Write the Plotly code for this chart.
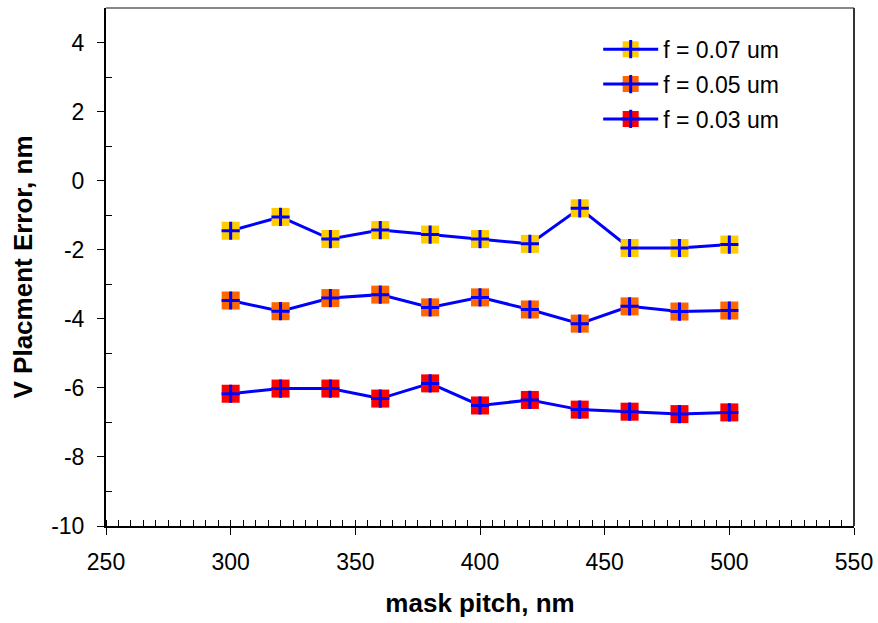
import plotly.graph_objects as go

pitch = [300, 320, 340, 360, 380, 400, 420, 440, 460, 480, 500]
f007 = [-1.45, -1.05, -1.69, -1.43, -1.56, -1.69, -1.83, -0.80, -1.95, -1.95, -1.85]
f005 = [-3.47, -3.78, -3.40, -3.30, -3.67, -3.38, -3.73, -4.14, -3.64, -3.79, -3.76]
f003 = [-6.17, -6.02, -6.02, -6.31, -5.87, -6.51, -6.35, -6.63, -6.69, -6.76, -6.71]
names = ["f = 0.07 um", "f = 0.05 um", "f = 0.03 um"]
series = [f007, f005, f003]
fills = ["#FFCC00", "#FF6600", "#FF0000"]

x_ticks = [250, 300, 350, 400, 450, 500, 550]
y_ticks = [-10, -8, -6, -4, -2, 0, 2, 4]
y_minor = [-9, -7, -5, -3, -1, 1, 3]

FONT = "Liberation Sans, Arial, sans-serif"
BLUE = "#0000FF"

fig = go.Figure()
for i, (nm, ys, col) in enumerate(zip(names, series, fills)):
    fig.add_trace(go.Scatter(
        x=pitch, y=ys, name=nm, mode="lines+markers",
        line=dict(color=BLUE, width=3),
        marker=dict(symbol="square", size=18, color=col, line=dict(width=0)),
        legend="legend", legendgroup=f"g{i}",
    ))
    fig.add_trace(go.Scatter(
        x=pitch, y=ys, name=nm, mode="markers",
        marker=dict(symbol="cross-thin", size=13, color=BLUE,
                    line=dict(width=3, color=BLUE)),
        legend="legend2", legendgroup=f"h{i}",
    ))

legend_common = dict(
    x=0.658, y=0.962, xanchor="left", yanchor="top",
    bgcolor="rgba(0,0,0,0)", borderwidth=0,
    itemwidth=55, traceorder="grouped", tracegroupgap=2,
)

fig.update_layout(
    width=878, height=623,
    margin=dict(l=106, r=24, t=8, b=97, autoexpand=False),
    paper_bgcolor="white", plot_bgcolor="white",
    font=dict(family=FONT, size=23, color="black"),
    showlegend=True,
    legend=dict(**legend_common, font=dict(family=FONT, size=23, color="black")),
    legend2=dict(**legend_common, font=dict(family=FONT, size=23, color="rgba(0,0,0,0)")),
    xaxis=dict(
        range=[250, 550], tickvals=x_ticks, ticktext=[str(v) for v in x_ticks],
        showgrid=False, zeroline=False, automargin=False,
        showline=True, linecolor="black", linewidth=2, mirror=False,
        ticks="outside", ticklen=7, tickcolor="black", tickwidth=1,
        ticklabelstandoff=7,
        minor=dict(ticks="inside", dtick=5, ticklen=6, tickcolor="black", tickwidth=1),
        tickfont=dict(family=FONT, size=23),
        title=dict(text="<b>mask pitch, nm</b>", font=dict(family=FONT, size=26), standoff=20),
    ),
    yaxis=dict(
        range=[-10, 5], tickvals=y_ticks, ticktext=[str(v) for v in y_ticks],
        showgrid=False, zeroline=False, automargin=False,
        showline=True, linecolor="black", linewidth=2, mirror=False,
        ticks="outside", ticklen=7, tickcolor="black", tickwidth=1,
        ticklabelstandoff=8,
        minor=dict(ticks="inside", tickvals=y_minor, ticklen=6,
                   tickcolor="black", tickwidth=1),
        tickfont=dict(family=FONT, size=23),
        title=dict(text="<b>V Placment Error, nm</b>", font=dict(family=FONT, size=26), standoff=11),
    ),
    shapes=[
        dict(type="line", xref="paper", yref="paper", x0=0, x1=1, y0=1, y1=1,
             line=dict(color="#888888", width=2)),
        dict(type="line", xref="paper", yref="paper", x0=1, x1=1, y0=0, y1=1,
             line=dict(color="#333333", width=2)),
    ],
)

fig.write_html(
    "out.html",
    config={"displayModeBar": False},
    post_script="document.body.style.margin='0';document.body.style.overflow='hidden';",
)
